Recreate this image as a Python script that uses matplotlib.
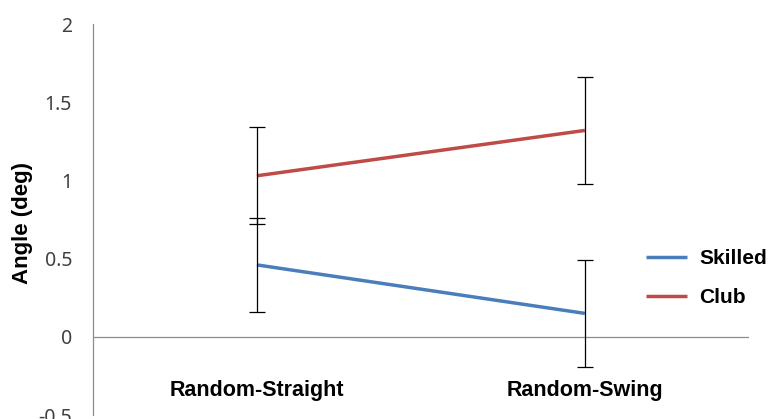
import numpy as np
import matplotlib.pyplot as plt

# data
conditions = ['Random-Straight', 'Random-Swing']
skilled = [0.46, 0.15]
skilled_err = [0.30, 0.34]
club = [1.03, 1.32]
club_err = [0.31, 0.34]
yticks = [-0.5, 0, 0.5, 1, 1.5, 2]

blue = '#4A7EBB'
red = '#BE4B48'
axis_grey = '#8c8c8c'

fig = plt.figure(figsize=(7.68, 4.19), dpi=100)
ax = fig.add_axes([0.121, 0.0095, 0.854, 0.933])

x = np.arange(len(conditions))

ax.plot(x, skilled, color=blue, lw=2.5, label='Skilled', solid_capstyle='butt', zorder=3)
ax.plot(x, club, color=red, lw=2.5, label='Club', solid_capstyle='butt', zorder=3)
ax.errorbar(x, skilled, yerr=skilled_err, fmt='none', ecolor='black',
            elinewidth=0.9, capsize=5.5, capthick=0.9, zorder=4)
ax.errorbar(x, club, yerr=club_err, fmt='none', ecolor='black',
            elinewidth=0.9, capsize=5.5, capthick=0.9, zorder=4)

ax.set_xlim(-0.5, 1.5)
ax.set_ylim(-0.5, 2)
ax.set_yticks(yticks)
ax.set_yticklabels(['-0.5', '0', '0.5', '1', '1.5', '2'], fontsize=14, family='Noto Sans',
                   color='#404040')
ax.tick_params(axis='y', length=0, pad=15)

# category axis crossing at zero, labels below the plot
ax.axhline(0, color=axis_grey, lw=0.9, zorder=1)
ax.set_xticks([])
for xi, name in zip(x, conditions):
    ax.text(xi, -0.34, name, ha='center', va='center', fontsize=15.5,
            fontweight='bold', family='Liberation Sans')

for side in ['top', 'right', 'bottom']:
    ax.spines[side].set_visible(False)
ax.spines['left'].set_color(axis_grey)
ax.spines['left'].set_linewidth(0.9)

ax.set_ylabel('Angle (deg)', fontsize=16, fontweight='bold', family='Liberation Sans')
ax.yaxis.set_label_coords(-0.092, 0.49)

leg = ax.legend(loc='center left', bbox_to_anchor=(0.843, 0.35), frameon=False,
                borderpad=0, borderaxespad=0, handlelength=2.0, handletextpad=0.55,
                labelspacing=0.95,
                prop={'family': 'Liberation Sans', 'weight': 'bold', 'size': 15})

fig.savefig('out.png', dpi=100)
